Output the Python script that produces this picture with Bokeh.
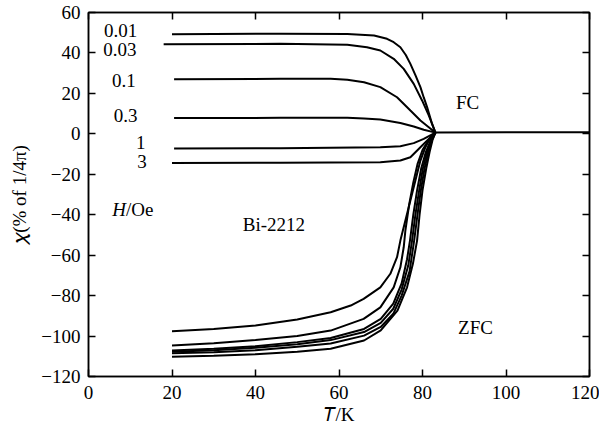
import math
from bokeh.plotting import figure
from bokeh.models import Range1d, LinearAxis, Label, FixedTicker
from bokeh.embed import file_html
from bokeh.resources import INLINE

FONT = "Liberation Serif"
FS = "19px"

# ---------------- data ----------------
# Field-cooled (FC) curves, one per field H/Oe
fc_fields = ["0.01", "0.03", "0.1", "0.3", "1", "3"]
fc_T_001 = [20, 46, 62, 68.4, 71.5, 73.1, 74.7, 76.0, 77.1, 78.3, 79.5, 80.3, 81.1, 82.3, 83.1]
fc_chi_001 = [49.3, 49.5, 49.4, 48.6, 47.0, 45.3, 42.8, 39.0, 34.6, 29.0, 23.1, 18.0, 13.2, 4.9, 0.6]
fc_T_003 = [18, 46, 62, 66.7, 69.9, 73.1, 75.5, 77.9, 79.9, 81.5, 83.1]
fc_chi_003 = [44.3, 44.5, 44.0, 42.8, 41.2, 37.1, 32.1, 24.7, 16.5, 9.1, 0.6]
fc_T_01 = [20.5, 46, 58, 62, 66, 69.9, 73.9, 77.1, 79.5, 81.5, 83.1]
fc_chi_01 = [27.0, 27.2, 27.2, 26.8, 25.5, 23.1, 18.1, 11.5, 6.6, 3.3, 0.6]
fc_T_03 = [20.5, 46, 62, 66, 69.9, 74.7, 77.9, 80.3, 83.1]
fc_chi_03 = [7.8, 7.9, 7.9, 7.6, 7.1, 5.4, 3.6, 2.0, 0.6]
fc_T_1 = [20.5, 46, 69.9, 74.7, 77.9, 80.3, 83.1]
fc_chi_1 = [-7.2, -7.1, -6.6, -6.1, -4.6, -2.5, 0.6]
fc_T_3 = [20, 46, 69.9, 74.7, 77.1, 79.5, 81.5, 83.1]
fc_chi_3 = [-14.4, -14.3, -14.0, -13.2, -11.6, -6.6, -2.5, 0.6]

# normal state above Tc (shared by all curves)
ns_T = [83.1, 100, 120]
ns_chi = [0.6, 0.8, 0.8]

# Zero-field-cooled (ZFC) curves
zfc_T_1 = [20, 30, 40, 50, 58, 62.8, 65.9, 69.9, 72.3, 73.9, 74.7, 75.9, 77.1, 78.3, 79.5, 80.7, 81.9, 83.1]
zfc_chi_1 = [-97.6, -96.5, -94.8, -91.8, -88.2, -84.9, -81.6, -75.9, -69.2, -61.0, -52.8, -42.9, -33.0, -23.1, -13.2, -6.6, -1.7, 0.6]
zfc_T_2 = [20, 30, 40, 50, 58, 65.9, 69.9, 73.1, 74.7, 75.5, 75.9, 76.8, 77.8, 78.8, 80.0, 81.5, 83.1]
zfc_chi_2 = [-104.7, -103.5, -102.0, -100.0, -97.3, -91.5, -85.8, -75.9, -66.0, -56.1, -47.8, -35.0, -24.0, -15.0, -8.0, -3.0, 0.6]
zfc_T_3 = [20, 30, 40, 50, 58, 66, 70, 73, 75, 76.3, 77.0, 77.8, 78.7, 79.7, 80.8, 82.0, 83.1]
zfc_chi_3 = [-107.2, -106.3, -105.0, -103.0, -101.0, -96.5, -91.5, -84.0, -74.0, -62.0, -52.8, -40.0, -28.0, -17.0, -9.0, -3.0, 0.6]
zfc_T_4 = [20, 30, 40, 50, 58, 66, 70, 73, 75, 76.6, 77.5, 78.3, 79.2, 80.1, 81.1, 82.1, 83.1]
zfc_chi_4 = [-107.8, -107.0, -105.8, -104.0, -102.0, -98.0, -93.5, -86.5, -77.0, -65.0, -52.8, -40.0, -28.0, -17.0, -9.0, -3.0, 0.6]
zfc_T_5 = [20, 30, 40, 50, 58, 66, 70, 73, 75, 76.9, 78.0, 78.8, 79.6, 80.5, 81.4, 82.3, 83.1]
zfc_chi_5 = [-108.5, -108.0, -107.0, -105.3, -103.7, -99.8, -95.5, -89.0, -80.0, -68.0, -52.8, -40.0, -28.0, -17.0, -9.0, -3.0, 0.6]
zfc_T_6 = [20, 30, 40, 50, 58, 66, 70, 74, 76.3, 77.7, 78.7, 79.3, 80.0, 80.9, 81.7, 82.4, 83.1]
zfc_chi_6 = [-110.2, -109.8, -109.0, -107.8, -106.3, -102.2, -97.2, -87.4, -75.9, -64.3, -52.8, -40.0, -28.0, -17.0, -9.0, -3.0, 0.6]

x_ticks = [0, 20, 40, 60, 80, 100, 120]
y_ticks = [-120, -100, -80, -60, -40, -20, 0, 20, 40, 60]

x_title = "\U0001D447/K"            # italic T / K
y_title = "\U0001D712(% of 1/4\u03c0)"  # italic chi

# label positions (data units)
field_label_x = [7.7, 7.5, 8.5, 8.9, 12.5, 12.8]
field_label_y = [51.3, 41.9, 26.6, 9.1, -4.3, -13.5]

# ---------------- figure ----------------
p = figure(frame_width=501, frame_height=364,
           x_range=Range1d(0, 120), y_range=Range1d(-120, 60),
           output_backend="svg", toolbar_location=None,
           min_border_left=88, min_border_right=10,
           min_border_top=12, min_border_bottom=55,
           background_fill_color="white", border_fill_color="white")
p.grid.visible = False
p.outline_line_color = "black"
p.outline_line_width = 1.5

bottom = p.below[0]
left = p.left[0]
bottom.ticker = FixedTicker(ticks=x_ticks)
left.ticker = FixedTicker(ticks=y_ticks)
left.major_label_overrides = {t: ("\u2212%d" % -t if t < 0 else "%d" % t) for t in y_ticks}

top = LinearAxis(ticker=FixedTicker(ticks=x_ticks))
right = LinearAxis(ticker=FixedTicker(ticks=y_ticks))
p.add_layout(top, "above")
p.add_layout(right, "right")

for ax in [bottom, left, top, right]:
    ax.axis_line_color = "black"
    ax.axis_line_width = 1.5
    ax.major_tick_in = 7
    ax.major_tick_out = 0
    ax.major_tick_line_width = 1.5
    ax.major_tick_line_color = "black"
    ax.minor_tick_line_color = None
    ax.major_label_text_font = FONT
    ax.major_label_text_font_size = FS
    ax.major_label_text_color = "black"

bottom.major_label_standoff = 9
left.major_label_standoff = 8
for ax in [top, right]:
    ax.major_label_text_font_size = "0px"
    ax.major_label_standoff = 0

for ax, title, st in [(bottom, x_title, 2), (left, y_title, 8)]:
    ax.axis_label = title
    ax.axis_label_text_font = FONT
    ax.axis_label_text_font_size = FS
    ax.axis_label_text_font_style = "normal"
    ax.axis_label_text_color = "black"
    ax.axis_label_standoff = st

LW = 2
fc_T = [fc_T_001, fc_T_003, fc_T_01, fc_T_03, fc_T_1, fc_T_3]
fc_chi = [fc_chi_001, fc_chi_003, fc_chi_01, fc_chi_03, fc_chi_1, fc_chi_3]
for t, c in zip(fc_T, fc_chi):
    p.line(t, c, line_color="black", line_width=LW)
p.line(ns_T, ns_chi, line_color="black", line_width=LW)

zfc_T = [zfc_T_1, zfc_T_2, zfc_T_3, zfc_T_4, zfc_T_5, zfc_T_6]
zfc_chi = [zfc_chi_1, zfc_chi_2, zfc_chi_3, zfc_chi_4, zfc_chi_5, zfc_chi_6]
for t, c in zip(zfc_T, zfc_chi):
    p.line(t, c, line_color="black", line_width=LW)


def lab(x, y, text, style="normal", align="center"):
    p.add_layout(Label(x=x, y=y, text=text,
                       text_font=FONT, text_font_size=FS,
                       text_font_style=style, text_align=align,
                       text_baseline="middle", text_color="black"))


for fx, fy, ft in zip(field_label_x, field_label_y, fc_fields):
    lab(fx, fy, ft)

lab(9.0, -37.2, "H", style="italic", align="right")
lab(9.0, -37.2, "/Oe", align="left")
lab(44.4, -44.6, "Bi-2212")
lab(90.8, 15.7, "FC")
lab(92.7, -96.0, "ZFC")

open("out.html", "w").write(file_html(p, INLINE))
